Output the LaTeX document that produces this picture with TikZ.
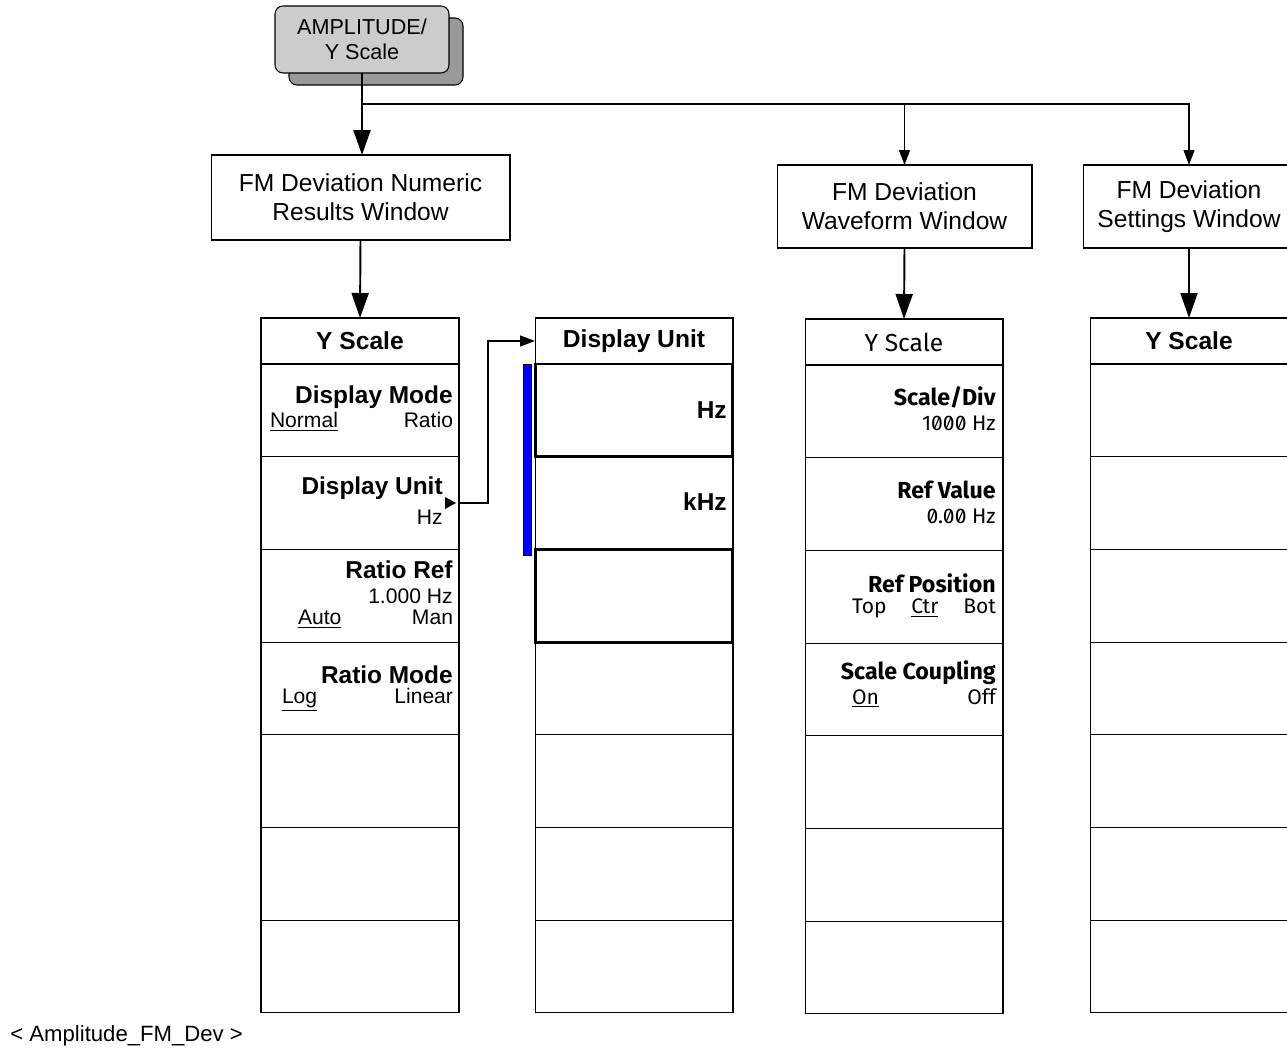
\documentclass[tikz,border=0pt]{standalone}
\usepackage{fontspec}
\setmainfont{Liberation Sans}
\newfontfamily\instfont{Fira Sans}[Numbers=SlashedZero]
\usetikzlibrary{arrows.meta,positioning}
\begin{document}
\begin{tikzpicture}[x=0.02cm,y=-0.02cm,
  bigarrow/.style={line width=1.1pt,-{Triangle[length=0.5cm,width=0.34cm]}},
  thinarrow/.style={line width=0.6pt,-{Triangle[length=0.3cm,width=0.22cm]}},
  winbox/.style={draw,line width=0.6pt,align=center,inner sep=0pt,outer sep=0pt,font=\fontsize{14}{16.4}\selectfont},
  menuhead/.style={draw,line width=0.6pt,minimum width=3.96cm,minimum height=0.92cm,inner sep=0pt,outer sep=0pt,font=\fontsize{14}{16}\selectfont\bfseries},
  softkey/.style={draw,line width=0.6pt,minimum width=3.96cm,minimum height=1.854cm,inner sep=0pt,outer sep=0pt},
  ktitle/.style={anchor=east,inner sep=0pt,font=\fontsize{13.9}{16}\selectfont\bfseries},
  ksub/.style={inner sep=0pt,font=\fontsize{12}{14}\selectfont},
  wtitle/.style={anchor=east,inner sep=0pt,font=\fontsize{13.2}{15}\selectfont\instfont\bfseries},
  wsub/.style={inner sep=0pt,font=\fontsize{12}{14}\selectfont\instfont}]
\useasboundingbox (0,0) rectangle (1287,1054);

\draw[fill=gray!80,line width=0.6pt,rounded corners=0.16cm] (289,18) rectangle (463,85);
\node[draw,fill=gray!40,line width=0.6pt,rounded corners=0.16cm,minimum width=3.48cm,minimum height=1.34cm,
  align=center,inner sep=0pt,outer sep=0pt,font=\fontsize{12.3}{14.2}\selectfont] (key) at (362,39.5) {AMPLITUDE/\\Y Scale};

\node[winbox,minimum width=5.98cm,minimum height=1.7cm] (num) at (360.5,197.5) {FM Deviation Numeric\\Results Window};
\node[winbox,minimum width=5.1cm,minimum height=1.66cm] (wav) at (904.5,206.5) {FM Deviation\\Waveform Window};
\node[winbox,minimum width=4.24cm,minimum height=1.66cm] (set) at (1189,206.5) {FM Deviation\\Settings Window};

\coordinate (br) at (363,104);
\draw[bigarrow] (key.south) -- (key.south |- num.north);
\draw[thinarrow] (br) -| (wav.north);
\draw[thinarrow] (br) -| (set.north);

\node[menuhead] (n0) at (360,341) {Y Scale};
\node[menuhead] (d0) at (634,341) {Display Unit};
\node[menuhead,font=\fontsize{14}{16}\selectfont\instfont] (w0) at (904,342) {Y Scale};
\node[menuhead] (s0) at (1189,341) {Y Scale};
\foreach \c in {n,d,w,s}
  \foreach \i [remember=\i as \p (initially 0)] in {1,...,7}
    \node[softkey,below=0pt of \c\p] (\c\i) {};

\draw[bigarrow] (num.south) -- (n0.north);
\draw[bigarrow] (wav.south) -- (w0.north);
\draw[bigarrow] (set.south) -- (s0.north);

\draw[line width=1.7pt] (d1.south west) rectangle (d1.north east);
\draw[line width=1.7pt] (d3.south west) rectangle (d3.north east);
\draw[fill=blue,line width=0.4pt] (523,364) rectangle (531,555);

\node[ktitle] at (453,397) {Display Mode};
\node[ksub] at (361.5,422) {\makebox[3.66cm]{\underline{Normal}\hfill Ratio}};
\node[ktitle] at (443,488) {Display Unit};
\node[ksub,anchor=east] at (443,517) {Hz};
\fill (445,497) -- (456,503) -- (445,509) -- cycle;
\draw[thinarrow] (n2.east) -- ++(29,0) |- (d0.west);
\node[ktitle] at (453,570) {Ratio Ref};
\node[ksub,anchor=east] at (453,596) {1.000 Hz};
\node[ksub] at (375.5,619) {\makebox[3.1cm]{\underline{Auto}\hfill Man}};
\node[ktitle] at (453,675) {Ratio Mode};
\node[ksub] at (367.5,700) {\makebox[3.42cm]{\underline{Log}\hfill Linear}};

\node[ktitle] at (727,410) {Hz};
\node[ktitle] at (727,502) {kHz};

\node[wtitle] at (996,397) {Scale/Div};
\node[wsub,anchor=east] at (996,423) {1000 Hz};
\node[wtitle] at (996,490) {Ref Value};
\node[wsub,anchor=east] at (996,516) {0.00 Hz};
\node[wtitle] at (996,583) {Ref Position};
\node[wsub] at (924,608) {\makebox[2.88cm]{Top\hfill\underline{Ctr}\hfill Bot}};
\node[wtitle] at (996,673) {Scale Coupling};
\node[wsub] at (924,698) {\makebox[2.88cm]{\underline{On}\hfill Off}};

\node[anchor=west,inner sep=0pt,font=\fontsize{12.6}{15}\selectfont] (fig) at (10,1036) {< Amplitude\_FM\_Dev >};
\end{tikzpicture}
\end{document}
